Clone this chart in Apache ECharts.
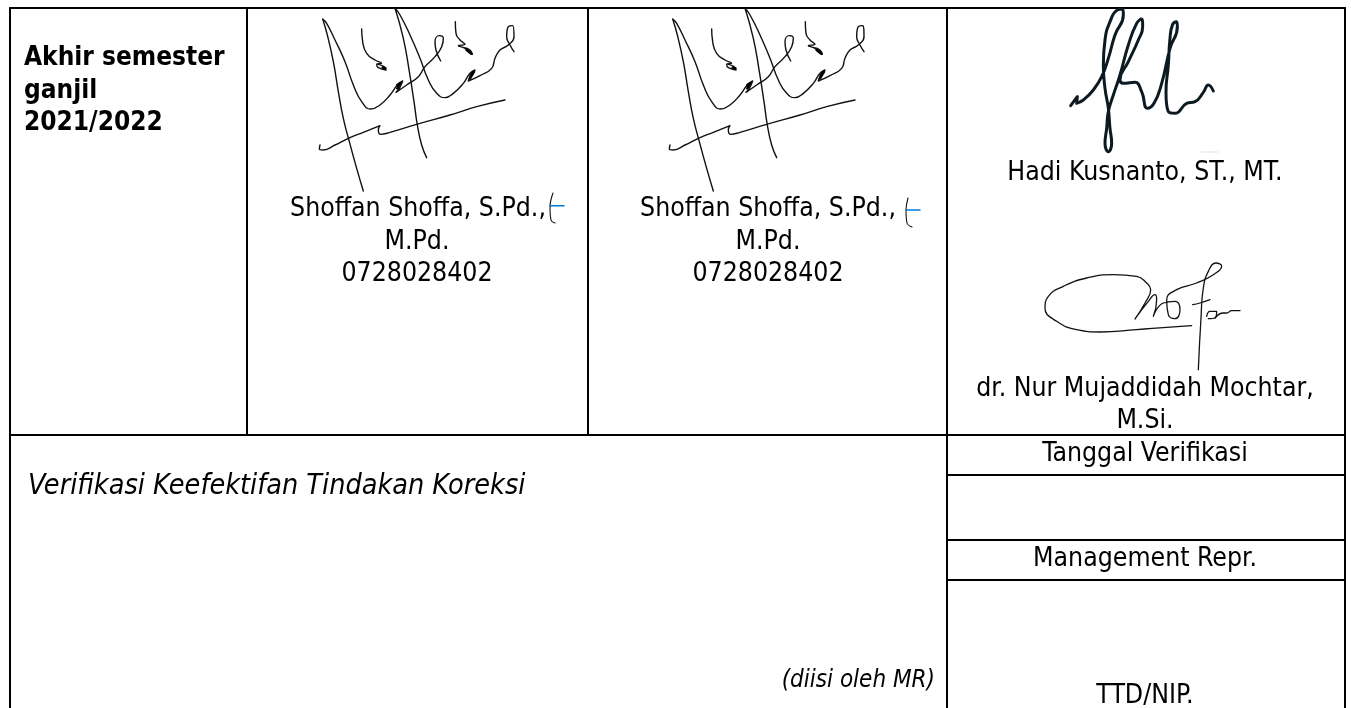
<!DOCTYPE html>
<html><head><meta charset="utf-8">
<style>html,body{margin:0;padding:0;background:#fff}#c{width:1351px;height:708px}</style>
<script src="https://cdn.jsdelivr.net/npm/echarts@6/dist/echarts.min.js"></script>
</head><body><div id="c"></div>
<script>
// Table rules: [x1,y1,x2,y2]
const rules = [
 [10,8,1345,8],[10,8,10,708],[1345,8,1345,708],[947,8,947,708],
 [247,8,247,435],[588,8,588,435],[10,435,1345,435],
 [947,475,1345,475],[947,540,1345,540],[947,580,1345,580]
];
// Text rows: text, x, y
const centreLines = [
 ["Shoffan Shoffa, S.Pd.,",418,209],["M.Pd.",417,242],["0728028402",417,274],
 ["Shoffan Shoffa, S.Pd.,",768,209],["M.Pd.",768,242],["0728028402",768,274],
 ["Hadi Kusnanto, ST., MT.",1145,173],["dr. Nur Mujaddidah Mochtar,",1145,389],["M.Si.",1145,421],
 ["Tanggal Verifikasi",1145,454],["Management Repr.",1145,559],["TTD/NIP.",1145,696]
];
const boldLines = [["Akhir semester",24,58],["ganjil",24,91],["2021/2022",24,123]];
const italicLines = [["Verifikasi Keefektifan Tindakan Koreksi",28,487,28.5]];
const italicRight = [["(diisi oleh MR)",935,681,24]];
// Signature strokes (3x crop coordinates)
const sigLeft = [[160,558],[140,490],[118,410],[100,340],[85,260],[70,170],[52,90],[38,42],[50,55],[75,105],[105,170],[130,240],[155,290],[182,312],[210,300],[240,270],[262,240],[278,228],[268,250],[258,262],[290,240],[325,215],[345,185],[375,155],[395,125],[400,100],[388,92],[375,110],[378,135],[392,168]];
const sigRight = [[350,458],[335,420],[322,360],[312,290],[298,200],[280,100],[255,10],[270,30],[300,90],[330,160],[355,225],[380,265],[405,278],[430,265],[460,235],[480,205],[495,195],[480,215],[475,228],[510,212],[545,190],[555,160],[570,135],[595,120],[612,95],[608,62],[595,65],[590,95],[600,120],[612,140]];
const sigHookA = [[155,72],[158,110],[170,145],[195,165],[215,175],[200,178],[205,188],[228,195],[222,185],[205,178]];
const sigHookB = [[436,50],[438,85],[450,105],[465,118],[445,122],[465,130],[487,148],[480,135],[462,128]];
const sigCross = [[30,420],[28,432],[40,435],[75,420],[115,400],[160,382],[210,362],[205,375],[212,388],[240,382],[320,358],[420,330],[500,305],[585,285]];
const sigLeaves = [[[262,240],[270,235],[262,250]],[[482,212],[492,200],[480,220]],[[218,188],[226,190]],[[470,135],[484,146]]];
const hadi = [[32,302],[48,280],[52,275],[50,295],[70,285],[100,255],[125,215],[145,160],[165,90],[190,30],[188,12],[172,15],[150,50],[135,105],[130,180],[135,250],[145,310],[150,370],[155,415],[145,440],[135,415],[140,370],[145,320],[160,270],[180,210],[205,120],[230,55],[245,42],[248,65],[235,105],[205,170],[180,225],[190,235],[225,232],[245,260],[262,310],[282,295],[305,235],[330,130],[352,65],[350,50],[338,58],[330,100],[325,180],[318,260],[325,320],[345,325],[380,295],[405,290],[430,262],[445,240],[460,258]];
const nurA = [[455,203],[380,208],[290,215],[180,222],[110,215],[50,190],[15,150],[25,115],[70,85],[140,60],[220,50],[290,55],[320,75],[332,95],[315,135],[285,183],[325,130],[345,110],[350,125],[340,175],[370,135],[405,130],[420,155],[405,182],[385,170],[380,125],[410,95],[470,75],[520,50],[545,25],[528,15],[505,40],[490,90],[483,180],[475,335]];
const nurB = [[458,140],[480,135],[510,125]];
const nurC = [[500,175],[510,160],[530,160],[525,180],[505,182]];
const nurD = [[525,180],[550,165],[560,165],[575,158],[600,158]];
const smudge = [[1201,152],[1218,152]];
const tickBlackA = [[553,193],[550,207],[551,220],[555,223]];
const tickBlackB = [[908,198],[906,210],[907,223],[912,227]];
const tickBlueA = [[550,205.7],[564,205.7]];
const tickBlueB = [[906,210],[920,210]];

const crop = (pts,ox,oy)=>pts.map(p=>[ox+p[0]/3,oy+p[1]/3]);
const FONT = "'DejaVu Sans Condensed','DejaVu Sans',sans-serif";
const series = [];
const line = (pts,w,c,smooth)=>series.push({type:'line',data:pts,symbol:'none',smooth:smooth,silent:true,animation:false,lineStyle:{width:w,color:c,cap:'round',join:'round'}});
rules.forEach(r=>line([[r[0],r[1]],[r[2],r[3]]],2,'#000',false));
[310,660].forEach(ox=>{
 [sigLeft,sigRight,sigHookA,sigHookB,sigCross].forEach(s=>line(crop(s,ox,5),1.4,'#111',0.5));
 sigLeaves.forEach(s=>line(crop(s,ox,5),2.6,'#000',false));
});
line(crop(hadi,1060,5),3,'#0d1a22',0.5);
[nurA,nurB,nurC,nurD].forEach(s=>line(crop(s,1040,258),1.3,'#111',0.5));
line(smudge,1.5,'#eceeee',false);
line(tickBlackA,1.1,'#111',0.4);
line(tickBlackB,1.1,'#111',0.4);
line(tickBlueA,1.5,'#0078d4',false);
line(tickBlueB,1.5,'#0078d4',false);
const text = (rows,extra)=>series.push({type:'scatter',symbolSize:0,silent:true,animation:false,itemStyle:{opacity:1},
 data:rows.map(r=>({value:[r[1],r[2]],itemStyle:{opacity:1},label:{show:true,position:'inside',formatter:r[0],fontFamily:FONT,color:'#000',fontSize:r[3]||26.4,...extra}}))});
text(centreLines,{align:'center',verticalAlign:'middle'});
text(boldLines,{align:'left',verticalAlign:'middle',fontWeight:'bold',fontSize:26});
text(italicLines,{align:'left',verticalAlign:'middle',fontStyle:'italic'});
text(italicRight,{align:'right',verticalAlign:'middle',fontStyle:'italic'});
const chart = echarts.init(document.getElementById('c'),null,{renderer:'canvas'});
chart.setOption({animation:false,backgroundColor:'#fff',
 grid:{left:0,right:0,top:0,bottom:0},
 xAxis:{type:'value',min:0,max:1351,show:false},
 yAxis:{type:'value',min:0,max:708,inverse:true,show:false},
 series});
</script></body></html>
